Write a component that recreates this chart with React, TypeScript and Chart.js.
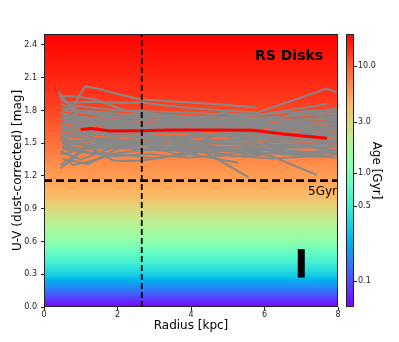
import React, { useEffect, useRef } from 'react';
import { Chart, registerables } from 'chart.js';
Chart.register(...registerables);

const xTickValues = [0, 2, 4, 6, 8];
const yTickValues = [0, 0.3, 0.6, 0.9, 1.2, 1.5, 1.8, 2.1, 2.4];
const xMin = 0, xMax = 8, yMin = 0, yMax = 2.5;
const ageTickValues = [10, 3, 1, 0.5, 0.1];
const ageTickLabels = ['10.0', '3.0', '1.0', '0.5', '0.1'];
const ageMin = 0.057, ageMax = 19.7;
const radiusCut = 2.66;
const colorCut = 1.157;
const errRadius = 7.0, errLow = 0.27, errHigh = 0.53;
const medianRadii = [1.0, 1.3, 1.8, 2.5, 3.5, 4.5, 5.7, 6.5, 7.7];
const medianUV = [1.625, 1.635, 1.612, 1.613, 1.62, 1.62, 1.618, 1.585, 1.545];
// U-V -> colormap fraction (background colouring of the panel)
const bgUV = [0, 0.3, 0.6, 0.9, 1.0, 1.16, 1.5, 1.9, 2.5];
const bgFrac = [0, 0.3, 0.53, 0.68, 0.73, 0.78, 0.855, 0.93, 1.0];

const profileRadii = [
  [0.8, 1.12, 1.45, 2.0, 2.65, 4.1, 5.75],
  [0.6, 1.2, 2.0, 2.65, 4.0, 5.8, 7.7, 8.0],
  [0.45, 0.7, 1.2, 2.0, 3.0, 4.5, 5.9, 7.7],
  [0.4, 0.65, 1.0, 1.5, 2.5, 3.5, 5.0, 6.5, 8.0],
  [0.4, 0.8, 1.4, 2.2, 3.2, 4.4, 5.6, 6.8, 8.0],
  [0.5, 1.0, 1.8, 2.6, 3.6, 4.8, 6.0, 7.0, 8.0],
  [0.5, 1.1, 1.7, 2.5, 3.3, 4.2, 5.2, 6.3, 7.4, 8.0],
  [0.45, 0.9, 1.5, 2.3, 3.1, 4.0, 5.0, 6.0, 7.0, 8.0],
  [0.55, 1.0, 1.6, 2.4, 3.4, 4.6, 5.8, 7.0, 8.0],
  [0.5, 1.2, 2.0, 2.9, 3.9, 4.9, 6.0, 7.2, 8.0],
  [0.45, 0.95, 1.6, 2.5, 3.5, 4.5, 5.5, 6.6, 7.6, 8.0],
  [0.5, 1.0, 1.9, 2.8, 3.8, 5.0, 6.2, 7.3, 8.0],
  [0.6, 1.3, 2.1, 3.0, 4.0, 5.1, 6.3, 7.5, 8.0],
  [0.45, 1.0, 1.7, 2.6, 3.5, 4.6, 5.7, 6.8, 8.0],
  [0.5, 1.1, 1.8, 2.7, 3.7, 4.7, 5.8, 7.0, 8.0],
  [0.55, 1.2, 2.0, 2.9, 3.9, 5.0, 6.1, 7.2, 8.0],
  [0.45, 0.8, 1.17, 1.6, 2.2, 3.0, 4.0],
  [0.45, 0.8, 1.17, 1.9, 2.6, 4.25, 5.5, 7.0, 8.0],
  [0.5, 1.0, 1.5, 2.5, 3.5, 4.43, 5.56],
  [0.6, 1.2, 2.0, 3.0, 4.0, 5.29],
  [0.5, 1.5, 2.5, 3.5, 4.5, 5.5, 6.2, 7.42],
  [0.45, 1.0, 2.0, 3.0, 4.3, 5.2, 6.5, 7.5, 8.0],
  [0.5, 0.9, 1.4, 2.1, 3.2, 4.4, 5.5, 6.7, 8.0],
  [0.45, 1.0, 1.6, 2.4, 3.3, 4.3, 5.4, 6.6, 7.6, 8.0],
  [0.5, 1.1, 1.9, 2.8, 3.9, 5.1, 6.3, 7.5, 8.0],
  [0.55, 1.2, 2.0, 3.0, 4.1, 5.2, 6.4, 7.5, 8.0],
  [0.45, 0.9, 1.5, 2.3, 3.2, 4.2, 5.2, 6.3, 7.3, 8.0],
  [0.5, 1.0, 1.7, 2.6, 3.6, 4.7, 5.9, 7.1, 8.0],
  [0.6, 1.3, 2.2, 3.2, 4.3, 5.5, 6.6, 7.7, 8.0],
  [0.45, 1.0, 1.8, 2.7, 3.8, 4.9, 6.0, 7.2, 8.0],
  [0.5, 1.2, 2.1, 3.1, 4.1, 5.3, 6.4, 7.4, 8.0],
  [0.45, 0.9, 1.6, 2.5, 3.5, 4.6, 5.7, 6.9, 8.0],
  [0.55, 1.1, 1.8, 2.7, 3.6, 4.6, 5.6, 6.8, 8.0],
  [0.5, 1.0, 1.7, 2.5, 3.4, 4.4, 5.5, 6.6, 7.8, 8.0],
  [0.45, 1.1, 1.9, 2.9, 4.0, 5.0, 6.0, 7.0, 8.0],
  [0.5, 1.0, 1.6, 2.4, 3.3, 4.3, 5.4, 6.5, 7.6, 8.0],
  [0.6, 1.2, 1.9, 2.8, 3.9, 5.0, 6.2, 7.3, 8.0],
  [0.45, 0.9, 1.5, 2.2, 3.0, 4.0, 5.0, 6.1, 7.2, 8.0],
  [0.5, 1.0, 1.8, 2.6, 3.5, 4.5, 5.6, 6.7, 7.8, 8.0],
  [0.55, 1.1, 1.8, 2.6, 3.6, 4.7, 5.8, 6.9, 8.0],
  [0.45, 1.0, 1.7, 2.5, 3.5, 4.5, 5.6, 6.8, 8.0],
  [0.5, 1.2, 2.0, 2.9, 3.8, 4.8, 5.9, 7.0, 8.0],
  [0.45, 0.9, 1.6, 2.4, 3.3, 4.3, 5.4, 6.5, 7.6, 8.0],
  [0.5, 1.1, 1.9, 2.8, 3.8, 4.9, 6.0, 7.1, 8.0],
  [0.45, 1.0, 1.7, 2.6, 3.6, 4.6, 5.7, 6.9, 8.0],
  [0.5, 0.8, 1.3, 2.0, 2.8, 3.8, 5.0, 6.2, 7.4, 8.0],
];

const profileUV = [
  [1.84, 2.02, 2.0, 1.95, 1.9, 1.87, 1.83],
  [1.87, 1.88, 1.87, 1.87, 1.82, 1.78, 2.0, 1.96],
  [1.91, 1.85, 1.83, 1.8, 1.79, 1.77, 1.76, 1.86],
  [1.97, 1.86, 1.78, 1.76, 1.74, 1.75, 1.73, 1.74, 1.82],
  [1.93, 1.93, 1.9, 1.8, 1.76, 1.72, 1.7, 1.75, 1.78],
  [1.8, 1.78, 1.74, 1.75, 1.72, 1.7, 1.73, 1.76, 1.74],
  [1.76, 1.74, 1.71, 1.7, 1.72, 1.69, 1.68, 1.7, 1.72, 1.71],
  [1.72, 1.73, 1.7, 1.68, 1.67, 1.68, 1.66, 1.67, 1.69, 1.68],
  [1.69, 1.7, 1.68, 1.66, 1.65, 1.64, 1.66, 1.65, 1.64],
  [1.66, 1.64, 1.65, 1.63, 1.62, 1.64, 1.62, 1.6, 1.61],
  [1.62, 1.63, 1.6, 1.59, 1.6, 1.58, 1.59, 1.57, 1.58, 1.59],
  [1.59, 1.58, 1.57, 1.56, 1.55, 1.57, 1.55, 1.54, 1.56],
  [1.56, 1.55, 1.53, 1.54, 1.52, 1.53, 1.51, 1.52, 1.53],
  [1.53, 1.52, 1.5, 1.51, 1.49, 1.5, 1.48, 1.49, 1.5],
  [1.5, 1.49, 1.47, 1.48, 1.46, 1.47, 1.45, 1.46, 1.47],
  [1.47, 1.45, 1.46, 1.44, 1.45, 1.43, 1.44, 1.42, 1.44],
  [1.27, 1.36, 1.47, 1.5, 1.53, 1.55, 1.54],
  [1.42, 1.38, 1.47, 1.34, 1.34, 1.42, 1.45, 1.48, 1.5],
  [1.45, 1.43, 1.48, 1.5, 1.46, 1.41, 1.19],
  [1.35, 1.31, 1.45, 1.5, 1.4, 1.32],
  [1.5, 1.47, 1.49, 1.52, 1.48, 1.42, 1.38, 1.21],
  [1.3, 1.42, 1.4, 1.36, 1.42, 1.38, 1.42, 1.39, 1.45],
  [1.82, 1.8, 1.79, 1.77, 1.76, 1.74, 1.72, 1.71, 1.73],
  [1.68, 1.72, 1.74, 1.73, 1.71, 1.73, 1.75, 1.78, 1.8, 1.79],
  [1.64, 1.67, 1.69, 1.7, 1.68, 1.69, 1.71, 1.73, 1.72],
  [1.58, 1.61, 1.63, 1.64, 1.66, 1.65, 1.67, 1.68, 1.69],
  [1.55, 1.57, 1.59, 1.61, 1.6, 1.62, 1.61, 1.63, 1.64, 1.62],
  [1.48, 1.52, 1.55, 1.57, 1.56, 1.58, 1.57, 1.56, 1.58],
  [1.44, 1.47, 1.5, 1.53, 1.52, 1.54, 1.53, 1.51, 1.52],
  [1.4, 1.44, 1.46, 1.45, 1.47, 1.45, 1.48, 1.46, 1.47],
  [1.75, 1.7, 1.66, 1.64, 1.62, 1.6, 1.59, 1.57, 1.55],
  [1.78, 1.74, 1.7, 1.67, 1.65, 1.62, 1.6, 1.58, 1.57],
  [1.71, 1.68, 1.66, 1.62, 1.6, 1.58, 1.55, 1.53, 1.51],
  [1.62, 1.6, 1.58, 1.56, 1.53, 1.51, 1.5, 1.48, 1.46, 1.47],
  [1.57, 1.55, 1.52, 1.5, 1.48, 1.46, 1.44, 1.42, 1.41],
  [1.52, 1.5, 1.47, 1.45, 1.43, 1.44, 1.42, 1.4, 1.38, 1.4],
  [1.46, 1.41, 1.38, 1.4, 1.37, 1.39, 1.36, 1.38, 1.37],
  [1.6, 1.68, 1.6, 1.7, 1.62, 1.71, 1.62, 1.72, 1.64, 1.68],
  [1.68, 1.58, 1.66, 1.56, 1.65, 1.57, 1.66, 1.55, 1.63, 1.6],
  [1.74, 1.64, 1.72, 1.62, 1.71, 1.63, 1.7, 1.6, 1.68],
  [1.52, 1.6, 1.5, 1.62, 1.52, 1.63, 1.53, 1.64, 1.58],
  [1.46, 1.55, 1.47, 1.57, 1.48, 1.58, 1.49, 1.59, 1.55],
  [1.86, 1.8, 1.77, 1.73, 1.7, 1.69, 1.67, 1.66, 1.64, 1.65],
  [1.72, 1.8, 1.71, 1.79, 1.7, 1.78, 1.69, 1.8, 1.76],
  [1.43, 1.35, 1.44, 1.5, 1.4, 1.47, 1.38, 1.48, 1.43],
  [1.36, 1.3, 1.34, 1.41, 1.44, 1.43, 1.4, 1.44, 1.41, 1.42],
];

const FONT = 'DejaVu Sans';

function rainbow(t: number): string {
  const r = Math.min(1, Math.abs(2 * t - 0.5));
  const g = Math.max(0, Math.sin(Math.PI * t));
  const b = Math.max(0, Math.cos((Math.PI * t) / 2));
  return `rgb(${Math.round(r * 255)},${Math.round(g * 255)},${Math.round(b * 255)})`;
}

function uvToFrac(uv: number): number {
  for (let i = 0; i < bgUV.length - 1; i++) {
    if (uv <= bgUV[i + 1]) {
      const f = (uv - bgUV[i]) / (bgUV[i + 1] - bgUV[i]);
      return bgFrac[i] + f * (bgFrac[i + 1] - bgFrac[i]);
    }
  }
  return 1;
}

const decorPlugin = {
  id: 'decor',
  beforeDatasetsDraw(chart: any) {
    const { ctx, chartArea } = chart;
    const { left, right, top, bottom } = chartArea;
    const ys = chart.scales.y;
    const y0 = ys.getPixelForValue(yMin);
    const y1 = ys.getPixelForValue(yMax);
    const grad = ctx.createLinearGradient(0, y0, 0, y1);
    const n = 80;
    for (let i = 0; i <= n; i++) {
      const uv = yMin + ((yMax - yMin) * i) / n;
      grad.addColorStop(i / n, rainbow(uvToFrac(uv)));
    }
    ctx.save();
    ctx.fillStyle = grad;
    ctx.fillRect(left, top, right - left, bottom - top);
    ctx.restore();
  },
  afterDraw(chart: any) {
    const { ctx, chartArea } = chart;
    const { left, right, top, bottom } = chartArea;
    ctx.save();
    ctx.strokeStyle = '#222';
    ctx.lineWidth = 1;
    ctx.strokeRect(left + 0.5, top + 0.5, right - left - 1, bottom - top - 1);

    ctx.fillStyle = '#000';
    ctx.font = `bold 14px ${FONT}`;
    ctx.textAlign = 'left';
    ctx.textBaseline = 'middle';
    ctx.fillText('RS Disks', 255, 56);
    ctx.font = `12px ${FONT}`;
    ctx.textAlign = 'right';
    const yCut = chart.scales.y.getPixelForValue(colorCut);
    ctx.fillText('5Gyr', right - 1, yCut + 11);

    ctx.fillStyle = '#000';
    ctx.font = `12px ${FONT}`;
    ctx.textAlign = 'center';
    ctx.textBaseline = 'middle';
    ctx.fillText('Radius [kpc]', (left + right) / 2, 326);
    ctx.save();
    ctx.translate(18, (top + bottom) / 2);
    ctx.rotate(-Math.PI / 2);
    ctx.fillText('U-V (dust-corrected) [mag]', 0, 0);
    ctx.restore();

    const cbL = 346, cbR = 354;
    const cg = ctx.createLinearGradient(0, bottom, 0, top);
    const n = 60;
    for (let i = 0; i <= n; i++) cg.addColorStop(i / n, rainbow(i / n));
    ctx.fillStyle = cg;
    ctx.fillRect(cbL, top, cbR - cbL, bottom - top);
    ctx.strokeStyle = '#222';
    ctx.strokeRect(cbL + 0.5, top + 0.5, cbR - cbL - 1, bottom - top - 1);
    const lmin = Math.log10(ageMin), lmax = Math.log10(ageMax);
    ctx.font = `8px ${FONT}`;
    ctx.textAlign = 'left';
    ctx.textBaseline = 'middle';
    ctx.fillStyle = '#222';
    ageTickValues.forEach((a, i) => {
      const f = (Math.log10(a) - lmin) / (lmax - lmin);
      const y = bottom - f * (bottom - top);
      ctx.beginPath();
      ctx.moveTo(cbR, Math.round(y) + 0.5);
      ctx.lineTo(cbR + 3, Math.round(y) + 0.5);
      ctx.stroke();
      ctx.fillText(ageTickLabels[i], cbR + 4, y);
    });
    ctx.fillStyle = '#000';
    ctx.font = `12px ${FONT}`;
    ctx.textAlign = 'center';
    ctx.save();
    ctx.translate(376, (top + bottom) / 2);
    ctx.rotate(Math.PI / 2);
    ctx.fillText('Age [Gyr]', 0, 0);
    ctx.restore();
    ctx.restore();
  },
};

export default function App() {
  const ref = useRef<HTMLCanvasElement | null>(null);
  useEffect(() => {
    if (!ref.current) return;
    Chart.defaults.font.family = FONT;
    const grayDatasets = profileRadii.map((rs, k) => ({
      data: rs.map((r, i) => ({ x: r, y: profileUV[k][i] })),
      borderColor: '#888888',
      borderWidth: 2,
      pointRadius: 0,
      tension: 0,
      order: 4,
    }));
    const chart = new Chart(ref.current, {
      type: 'line',
      data: {
        datasets: [
          {
            data: [{ x: errRadius, y: errLow }, { x: errRadius, y: errHigh }],
            borderColor: '#000',
            borderWidth: 7,
            borderCapStyle: 'butt',
            pointRadius: 0,
            order: 0,
          },
          {
            data: [{ x: xMin, y: colorCut }, { x: xMax, y: colorCut }],
            borderColor: '#000',
            borderWidth: 2.6,
            borderDash: [8, 4],
            pointRadius: 0,
            order: 1,
          },
          {
            data: [{ x: radiusCut, y: yMin }, { x: radiusCut, y: yMax }],
            borderColor: '#000',
            borderWidth: 1.8,
            borderDash: [6, 3],
            pointRadius: 0,
            order: 1,
          },
          {
            data: medianRadii.map((r, i) => ({ x: r, y: medianUV[i] })),
            borderColor: '#ff0000',
            borderWidth: 3,
            pointRadius: 0,
            tension: 0,
            order: 2,
          },
          ...grayDatasets,
        ] as any,
      },
      options: {
        responsive: false,
        animation: false,
        devicePixelRatio: 1,
        layout: { padding: { left: 0, top: 34, right: 61, bottom: 0 } },
        plugins: { legend: { display: false }, tooltip: { enabled: false } },
        scales: {
          x: {
            type: 'linear',
            min: xMin,
            max: xMax,
            afterFit: (s: any) => { s.height = 35; },
            afterBuildTicks: (s: any) => { s.ticks = xTickValues.map((v) => ({ value: v })); },
            ticks: { font: { size: 8 }, color: '#222', padding: 0, maxRotation: 0, callback: (v: any) => String(v) },
            grid: { drawOnChartArea: false, drawTicks: true, tickLength: 3, color: '#222' },
            border: { display: false },
          },
          y: {
            type: 'linear',
            min: yMin,
            max: yMax,
            afterFit: (s: any) => { s.width = 44; },
            afterBuildTicks: (s: any) => { s.ticks = yTickValues.map((v) => ({ value: v })); },
            ticks: { font: { size: 8 }, color: '#222', padding: 4, callback: (v: any) => Number(v).toFixed(1) },
            grid: { drawOnChartArea: false, drawTicks: true, tickLength: 3, color: '#222' },
            border: { display: false },
          },
        },
      },
      plugins: [decorPlugin],
    } as any);
    return () => chart.destroy();
  }, []);
  return (
    <div style={{ position: 'fixed', left: 0, top: 0, width: 399, height: 342, background: '#fff' }}>
      <canvas ref={ref} width={399} height={342} style={{ width: 399, height: 342, display: 'block' }} />
    </div>
  );
}
